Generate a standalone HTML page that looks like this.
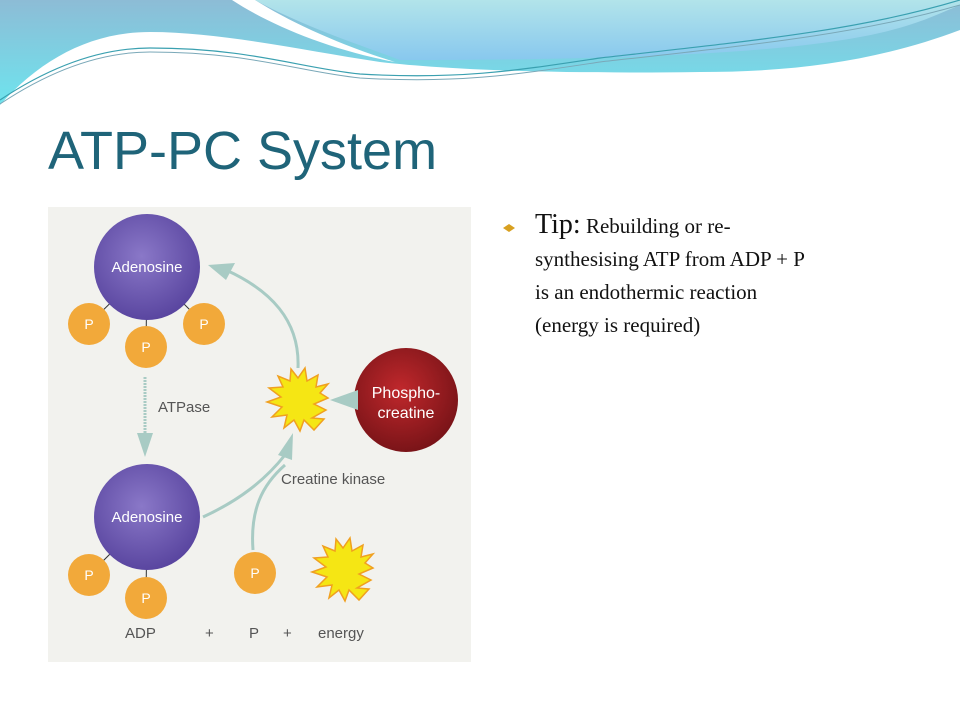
<!DOCTYPE html>
<html><head><meta charset="utf-8"><style>
body{margin:0;width:960px;height:720px;background:#fff;overflow:hidden;position:relative;font-family:"Liberation Sans",sans-serif}
.t{position:absolute;left:48px;top:120px;font-size:54px;color:#1f6479;font-family:"Liberation Sans",sans-serif}
.tip{position:absolute;left:535px;top:208px;font-family:"Liberation Serif",serif;font-size:21px;line-height:33px;color:#111;white-space:nowrap}
.tip b{font-weight:normal;font-size:28px}
</style></head><body>
<svg width="960" height="120" style="position:absolute;left:0;top:0">
<defs><linearGradient id="g1" x1="0" y1="0" x2="0" y2="1"><stop offset="0" stop-color="#8dbcd6"/><stop offset="1" stop-color="#6ee4ee"/></linearGradient>
<linearGradient id="g2" x1="0" y1="0" x2="0" y2="1"><stop offset="0" stop-color="#b2e4ea"/><stop offset="1" stop-color="#88c8ee"/></linearGradient></defs>
<path d="M0,0 H960 V30 C880,60 800,72 700,72 C560,74 450,70 380,62 C300,50 220,32 150,32 C90,32 40,60 0,105 Z" fill="url(#g1)"/>
<path d="M255,0 H960 V5 C900,30 860,60 400,60 C360,45 300,25 255,0 Z" fill="url(#g2)"/>
<path d="M232,0 C270,25 330,50 395,62 C340,45 290,22 255,0 Z" fill="#fff"/>
<path d="M0,100 C60,60 110,48 150,48 C250,48 300,68 360,74 C460,80 520,70 600,58 C760,40 860,30 960,0" stroke="#3aa0b0" stroke-width="1.2" fill="none"/>
<path d="M0,104 C60,64 110,52 150,52 C250,52 300,72 360,78 C460,84 520,74 600,62 C760,44 860,34 960,5" stroke="#7aa8b8" stroke-width="1" fill="none"/>
</svg>
<div class="t">ATP-PC System</div>
<svg width="960" height="720" style="position:absolute;left:0;top:0">
<defs>
<radialGradient id="pu" cx="0.45" cy="0.4" r="0.6"><stop offset="0" stop-color="#8a78c8"/><stop offset="1" stop-color="#5a46a0"/></radialGradient>
<radialGradient id="rd" cx="0.45" cy="0.4" r="0.6"><stop offset="0" stop-color="#c0282c"/><stop offset="1" stop-color="#7a1418"/></radialGradient>
</defs>
<rect x="48" y="207" width="423" height="455" fill="#f2f2ee"/>
<g stroke="#333" stroke-width="1">
<line x1="147" y1="267" x2="89" y2="324"/><line x1="147" y1="267" x2="146" y2="347"/><line x1="147" y1="267" x2="204" y2="324"/>
<line x1="147" y1="517" x2="89" y2="575"/><line x1="147" y1="517" x2="146" y2="598"/>
</g>
<g fill="#f2a93a">
<circle cx="89" cy="324" r="21"/><circle cx="146" cy="347" r="21"/><circle cx="204" cy="324" r="21"/>
<circle cx="89" cy="575" r="21"/><circle cx="146" cy="598" r="21"/><circle cx="255" cy="573" r="21"/>
</g>
<circle cx="147" cy="267" r="53" fill="url(#pu)"/>
<circle cx="147" cy="517" r="53" fill="url(#pu)"/>
<circle cx="406" cy="400" r="52" fill="url(#rd)"/>
<g fill="none" stroke="#a8cbc4" stroke-width="3">
<line x1="145" y1="377" x2="145" y2="436" stroke-dasharray="2,1"/>
<path d="M298,368 C300,320 270,290 226,270"/>
<path d="M203,517 C240,500 265,480 285,455"/>
<path d="M253,550 C250,510 262,485 285,465"/>
</g>
<g fill="#a8cbc4">
<polygon points="137,433 153,433 145,457"/>
<polygon points="208,265 235,263 226,280"/>
<polygon points="293,433 278,455 292,460"/>
<polygon points="330,400 358,390 358,410"/>
</g>
<polygon fill="#f5e614" stroke="#f0a020" stroke-width="1.5" points="328,398 314,404 326,410 312,418 324,419 314,430 304,420 300,431 294,420 284,428 287,415 272,417 282,407 267,402 281,397 269,388 283,387 278,376 290,381 291,369 298,378 305,368 307,381 318,375 316,387 328,384 320,393"/>
<polygon fill="#f5e614" stroke="#f0a020" stroke-width="1.5" points="373,568 359,574 371,580 357,588 369,589 359,600 349,590 345,601 339,590 329,598 332,585 317,587 327,577 312,572 326,567 314,558 328,557 323,546 335,551 336,539 343,548 350,538 352,551 363,545 361,557 373,554 365,563"/>
<g font-family="Liberation Sans,sans-serif" fill="#fff" font-size="15" text-anchor="middle">
<text x="147" y="272">Adenosine</text><text x="147" y="522">Adenosine</text>
<text x="406" y="398" font-size="16">Phospho-</text><text x="406" y="418" font-size="16">creatine</text>
<g font-size="14"><text x="89" y="329">P</text><text x="146" y="352">P</text><text x="204" y="329">P</text><text x="89" y="580">P</text><text x="146" y="603">P</text><text x="255" y="578">P</text></g>
</g>
<g font-family="Liberation Sans,sans-serif" fill="#555" font-size="15">
<text x="158" y="412">ATPase</text><text x="281" y="484">Creatine kinase</text>
<text x="125" y="638">ADP</text><text x="205" y="638">+</text><text x="249" y="638">P</text><text x="283" y="638">+</text><text x="318" y="638">energy</text>
</g>
<polygon points="503,228 509,224 515,228 509,232" fill="#d8a020"/>
</svg>
<div class="tip"><b>Tip:</b> Rebuilding or re-<br>synthesising ATP from ADP + P<br>is an endothermic reaction<br>(energy is required)</div>
</body></html>
